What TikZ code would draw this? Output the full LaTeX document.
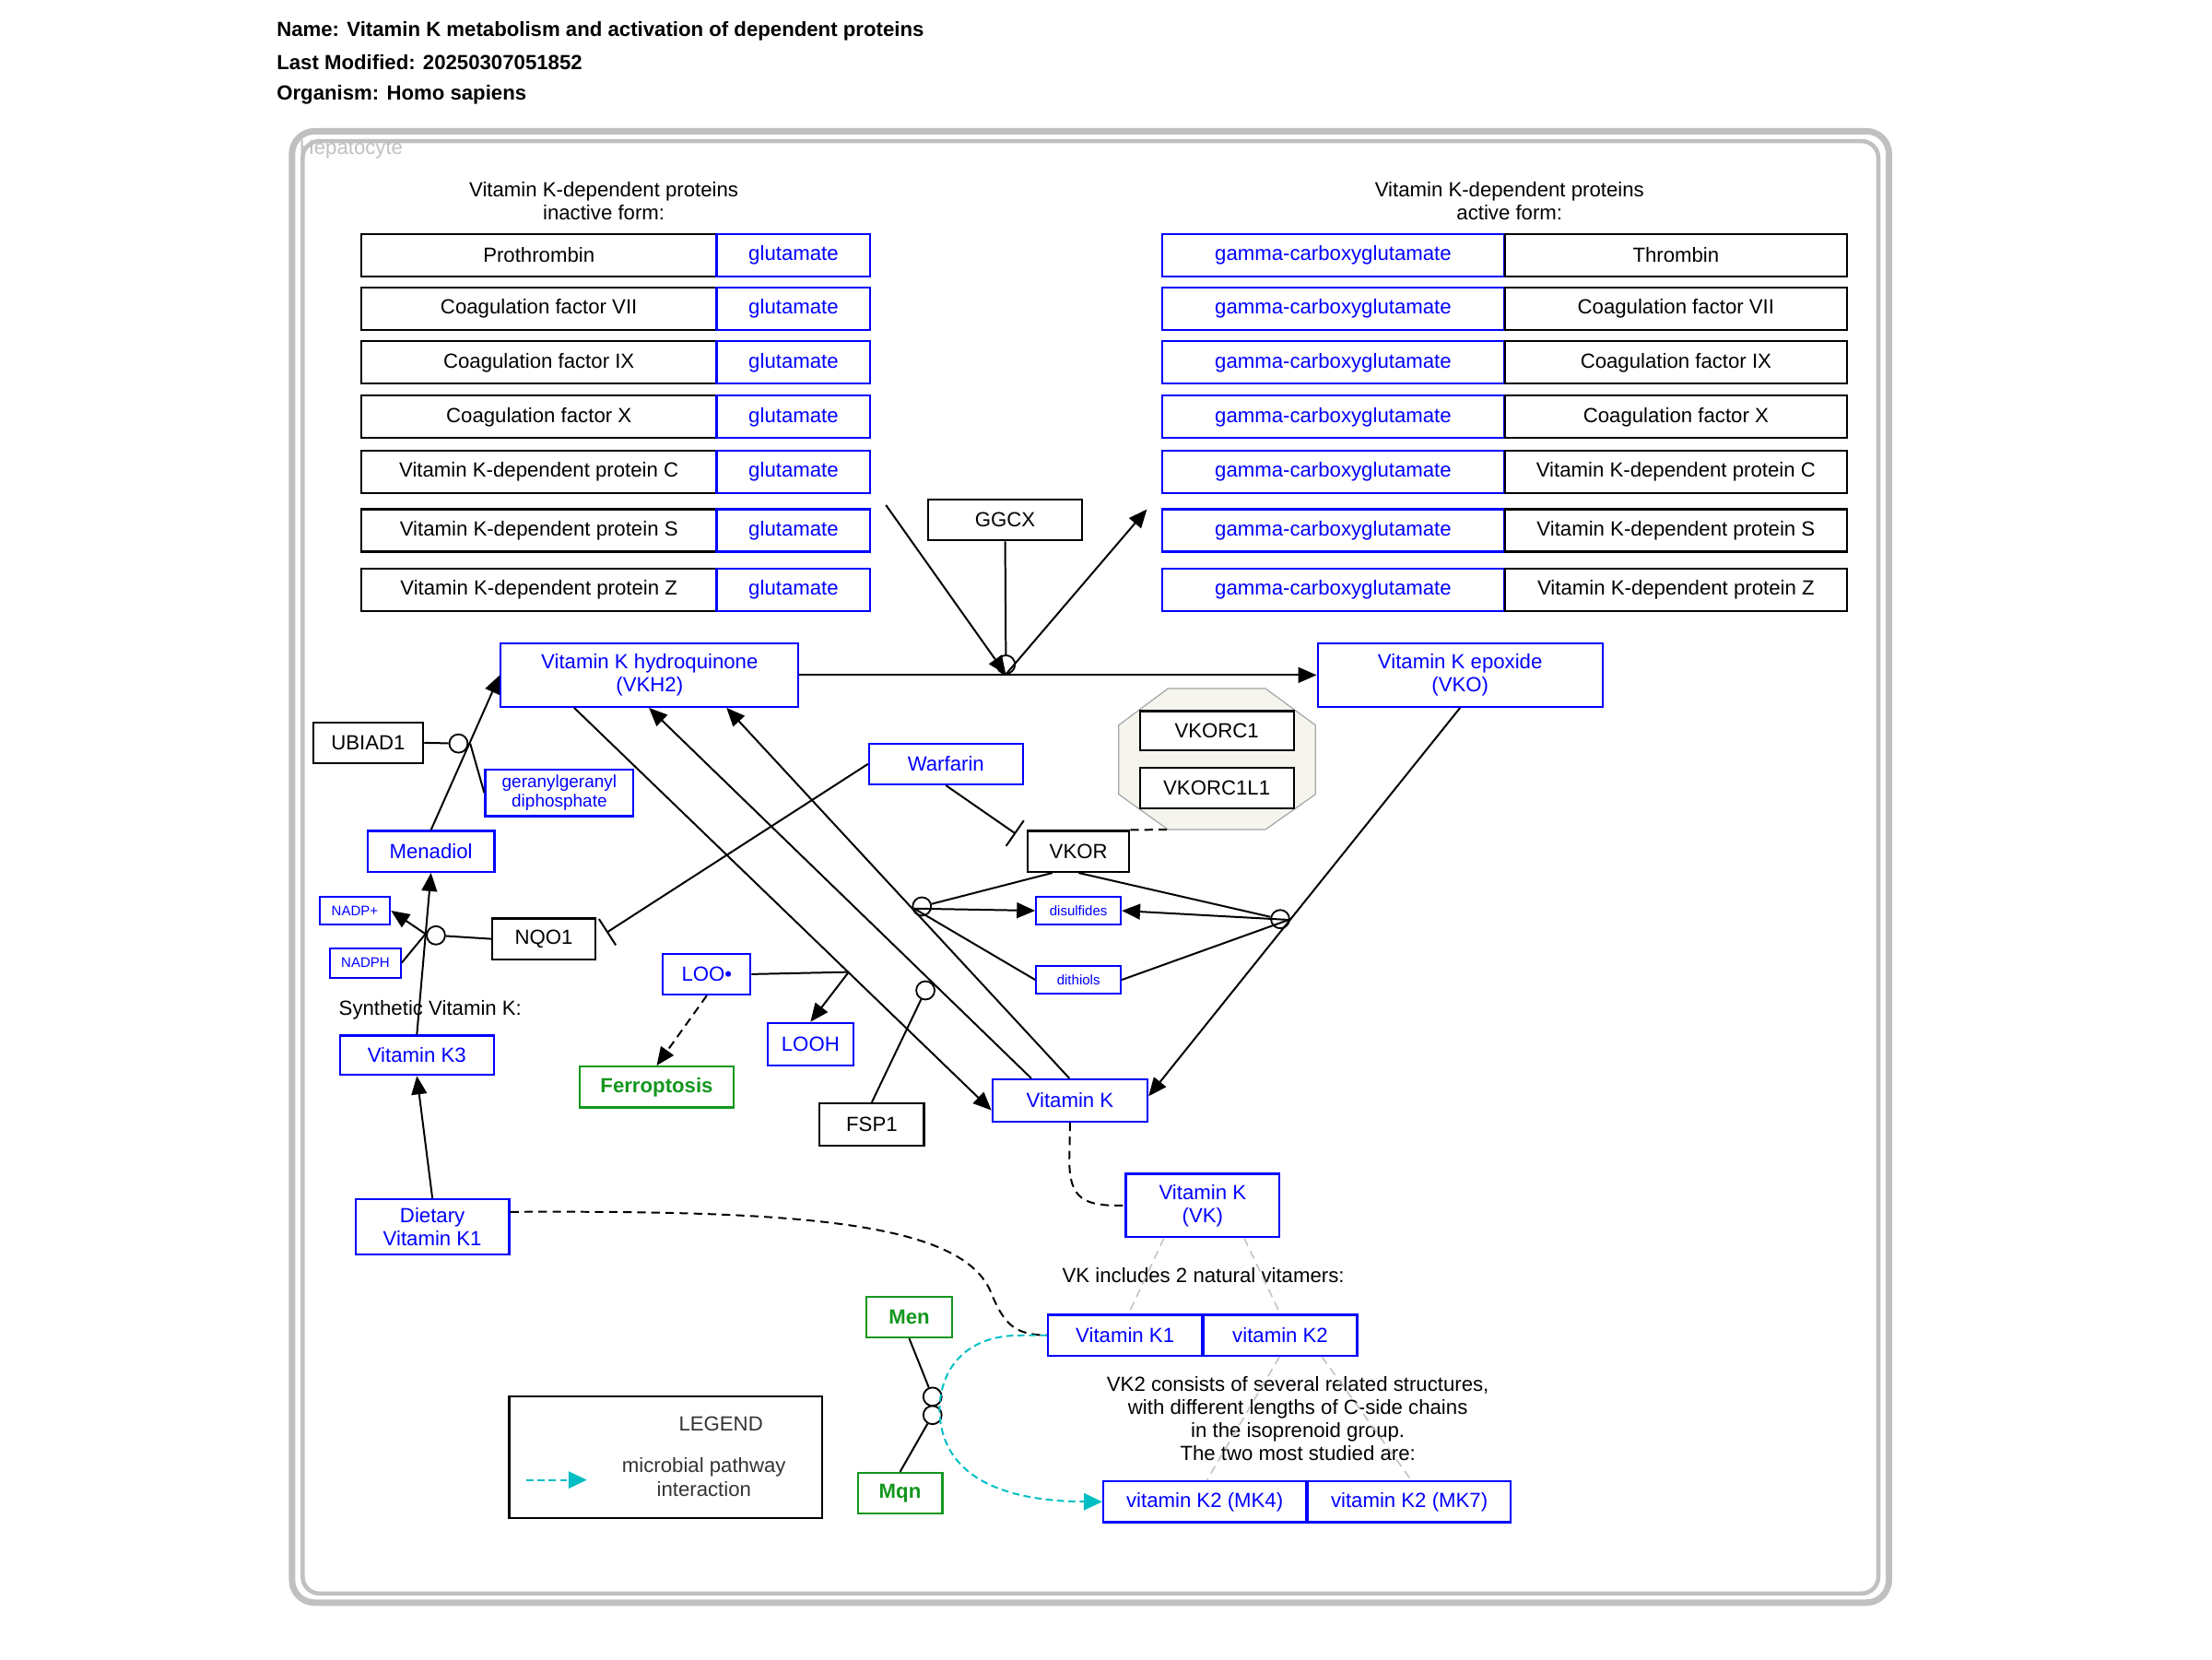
\documentclass[tikz,border=0pt]{standalone}
\usepackage{fontspec}
\setmainfont{Liberation Sans}
\usetikzlibrary{positioning,arrows.meta,calc}
\definecolor{vkblue}{RGB}{0,0,255}
\definecolor{vkgreen}{RGB}{20,150,30}
\definecolor{vkcyan}{RGB}{0,190,195}
\definecolor{cellgray}{RGB}{192,192,192}
\definecolor{cplxfill}{RGB}{245,245,238}
\newcommand{\fnorm}{\fontsize{14.5}{16.5}\selectfont}
\newcommand{\fmid}{\fontsize{12.4}{13.6}\selectfont}
\newcommand{\fsmall}{\fontsize{9.8}{11}\selectfont}

\begin{document}
\begin{tikzpicture}[x=1pt,y=-1pt,
  box/.style={draw,line width=1.4pt,inner sep=0pt,align=center,font=\fnorm},
  gnode/.style={box,draw=black},
  mnode/.style={box,draw=vkblue,text=vkblue},
  pnode/.style={box,draw=vkgreen,text=vkgreen,font=\fnorm\bfseries},
  cat/.style={draw,circle,line width=1.2pt,minimum size=13pt,inner sep=0pt},
  link/.style={line width=1.3pt},
  arr/.style={link,-{Triangle[length=13pt,width=11pt]}},
  inh/.style={link,-{Bar[width=22pt,line width=1.3pt]}},
  dlink/.style={link,dash pattern=on 6pt off 4pt},
  vlink/.style={draw=cellgray,line width=1pt,dash pattern=on 6pt off 4pt},
  micro/.style={vkcyan,line width=1.3pt,dash pattern=on 5pt off 3pt,
    -{Triangle[length=13pt,width=12pt,fill=vkcyan]}},
  txt/.style={inner sep=0pt,align=center,font=\fnorm}]

  \useasboundingbox (0,0) rectangle (1568,1176);

  % header
  \node[txt,anchor=west,font=\fnorm\bfseries] (name) at (196,22) {Name: Vitamin K metabolism and activation of dependent proteins};
  \node[txt,anchor=west,font=\fnorm\bfseries] (modified) at (196,44) {Last Modified: 20250307051852};
  \node[txt,anchor=west,font=\fnorm\bfseries] (organism) at (196,67) {Organism: Homo sapiens};

  % cell
  \node[txt,anchor=west,text=cellgray] (heplabel) at (212,106) {Hepatocyte};
  \draw[cellgray,line width=4.5pt,rounded corners=16pt] (207,93) rectangle (1339,1136);
  \draw[cellgray,line width=3pt,rounded corners=12pt] (214.5,100) rectangle (1331.5,1129.5);

  % dependent proteins
  \node[txt] (inacttitle) at (428,142.5) {Vitamin K-dependent proteins\\inactive form:};
  \node[txt] (acttitle) at (1070,142.5) {Vitamin K-dependent proteins\\active form:};
  \foreach \y/\inact/\act [count=\i] in {181/Prothrombin/Thrombin,
      219/Coagulation factor VII/Coagulation factor VII,
      257/Coagulation factor IX/Coagulation factor IX,
      295.5/Coagulation factor X/Coagulation factor X,
      334.5/Vitamin K-dependent protein C/Vitamin K-dependent protein C,
      376/Vitamin K-dependent protein S/Vitamin K-dependent protein S,
      418/Vitamin K-dependent protein Z/Vitamin K-dependent protein Z} {
    \node[gnode,minimum width=252pt,minimum height=30pt] (inact\i) at (382,\y) {\inact};
    \node[mnode,minimum width=109pt,minimum height=30pt] (glu\i) at (562.5,\y) {glutamate};
    \node[mnode,minimum width=242pt,minimum height=30pt] (gla\i) at (945,\y) {gamma-carboxyglutamate};
    \node[gnode,minimum width=242pt,minimum height=30pt] (act\i) at (1188,\y) {\act};
  }

  % carboxylation
  \node[gnode,minimum width=109pt,minimum height=29pt] (ggcx) at (712.5,368.5) {GGCX};
  \node[mnode,minimum width=211pt,minimum height=45pt] (vkh2) at (460.5,478.5) {Vitamin K hydroquinone\\(VKH2)};
  \node[mnode,minimum width=202pt,minimum height=45pt] (vko) at (1035,478.5) {Vitamin K epoxide\\(VKO)};
  \node[cat] (c-ggcx) at (713,471) {};
  \coordinate (j-ggcx) at (713,478);
  \coordinate (glu-in) at (628,358);
  \coordinate (gla-out) at (813,361);
  \draw[arr] (vkh2.east) -- (vko.west);
  \draw[arr] (glu-in) -- (j-ggcx);
  \draw[arr] (j-ggcx) -- (gla-out);
  \draw[link] (ggcx.south) -- (c-ggcx.north);

  % menadiol route
  \node[gnode,minimum width=78pt,minimum height=29pt] (ubiad) at (261,526.5) {UBIAD1};
  \node[mnode,font=\fmid,minimum width=105pt,minimum height=33pt] (gg) at (396.5,562) {geranylgeranyl\\diphosphate};
  \node[mnode,minimum width=90pt,minimum height=29pt] (menadiol) at (305.5,603.5) {Menadiol};
  \node[mnode,font=\fsmall,minimum width=50pt,minimum height=20pt] (nadp) at (251.5,645.5) {NADP+};
  \node[mnode,font=\fsmall,minimum width=50pt,minimum height=21pt] (nadph) at (259,682.5) {NADPH};
  \node[gnode,minimum width=73pt,minimum height=29pt] (nqo1) at (385.5,665.5) {NQO1};
  \node[txt] (synth) at (305,716) {Synthetic Vitamin K:};
  \node[mnode,minimum width=109pt,minimum height=28pt] (vk3) at (295.5,748) {Vitamin K3};
  \node[mnode,minimum width=109pt,minimum height=39pt] (dietary) at (306.5,869.5) {Dietary\\Vitamin K1};
  \node[cat] (c-ubiad) at (325,527) {};
  \node[cat] (c-nqo1) at (309,663) {};
  \coordinate (j-ubiad) at (333.3,527);
  \coordinate (j-nqo1) at (301.6,662);
  \draw[arr] (menadiol.north) -- (vkh2.west);
  \draw[link] (ubiad.east) -- (c-ubiad);
  \draw[link] (j-ubiad) -- (gg.west);
  \draw[arr] (vk3.north) -- (menadiol.south);
  \draw[link] (nqo1.west) -- (c-nqo1);
  \draw[link] (nadph.east) -- (j-nqo1);
  \draw[arr] (j-nqo1) -- (nadp.east);
  \draw[arr] (dietary.north) -- (vk3.south);

  % warfarin and VKOR
  \node[mnode,minimum width=109pt,minimum height=29pt] (warfarin) at (670.5,541.5) {Warfarin};
  \draw[draw=gray!70,fill=cplxfill,line width=0.8pt] (828,488) -- (897,488) -- (932.5,514)
    -- (932.5,563) -- (897,588) -- (828,588) -- (793,563) -- (793,514) -- cycle;
  \coordinate (cplx) at (828,588);
  \node[gnode,fill=white,minimum width=109pt,minimum height=28pt] (vkorc1) at (862.5,518) {VKORC1};
  \node[gnode,fill=white,minimum width=109pt,minimum height=29pt] (vkorc1l1) at (862.5,558.5) {VKORC1L1};
  \node[gnode,minimum width=72pt,minimum height=29pt] (vkor) at (764.5,603.5) {VKOR};
  \node[mnode,font=\fsmall,minimum width=60pt,minimum height=20pt] (disulf) at (764.5,645.5) {disulfides};
  \node[mnode,font=\fsmall,minimum width=60pt,minimum height=20pt] (dithiol) at (764.5,694.5) {dithiols};
  \coordinate (nqo1-inh) at (430,661);
  \coordinate (vkor-inh) at (720,591);
  \draw[inh] (warfarin.west) -- (nqo1-inh);
  \draw[inh] (warfarin.south) -- (vkor-inh);
  \draw[dlink] (vkor.north east) -- (cplx);

  % vitamin K cycle
  \node[mnode,minimum width=110pt,minimum height=30pt] (vitk) at (758.5,780) {Vitamin K};
  \node[gnode,minimum width=74pt,minimum height=30pt] (fsp1) at (618,797) {FSP1};
  \node[mnode,minimum width=62pt,minimum height=29pt] (loo) at (501,690.5) {LOO\textbullet};
  \node[mnode,minimum width=61pt,minimum height=30pt] (looh) at (574.5,740) {LOOH};
  \node[pnode,minimum width=109pt,minimum height=29pt] (ferro) at (465.5,770.5) {Ferroptosis};
  \node[cat] (c-vkor1) at (653.5,642.5) {};
  \node[cat] (c-vkor2) at (907.5,651.5) {};
  \node[cat] (c-fsp1) at (656,702) {};
  \coordinate (j-loo) at (601.6,689);
  \coordinate (j-vkor1) at (648,644);
  \coordinate (j-vkor2) at (913.5,652);
  \draw[arr] ([xshift=-53.5pt]vkh2.south) -- ([yshift=-7pt]vitk.west);
  \draw[arr] ([xshift=-27.5pt]vitk.north) -- ([xshift=-0.5pt]vkh2.south);
  \draw[arr] ([xshift=-0.5pt]vitk.north) -- ([xshift=54.5pt]vkh2.south);
  \draw[arr] (vko.south) -- ([yshift=3pt]vitk.east);
  \draw[link] (c-vkor1) -- ([xshift=-18.5pt]vkor.south);
  \draw[arr] (j-vkor1) -- (disulf.west);
  \draw[link] (dithiol.west) -- (j-vkor1);
  \draw[link] (vkor.south) -- (c-vkor2);
  \draw[arr] (j-vkor2) -- (disulf.east);
  \draw[link] (dithiol.east) -- (j-vkor2);
  \draw[link] (fsp1.north) -- (c-fsp1);
  \draw[link] (loo.east) -- (j-loo);
  \draw[arr] (j-loo) -- (looh.north);
  \draw[arr,dash pattern=on 6pt off 4pt] (loo.south) -- (ferro.north);

  % vitamers
  \node[mnode,minimum width=109pt,minimum height=45pt] (vk) at (852.5,854.5) {Vitamin K\\(VK)};
  \node[txt] (vkincl) at (853,904) {VK includes 2 natural vitamers:};
  \node[mnode,minimum width=109pt,minimum height=29pt] (vk1) at (797.5,946.5) {Vitamin K1};
  \node[mnode,minimum width=109pt,minimum height=29pt] (vk2) at (907.5,946.5) {vitamin K2};
  \node[txt,font=\fontsize{14.5}{16.4}\selectfont] (vk2note) at (920,1005.5) {VK2 consists of several related structures,\\with different lengths of C-side chains\\in the isoprenoid group.\\The two most studied are:};
  \node[mnode,minimum width=144pt,minimum height=29pt] (mk4) at (854,1064.5) {vitamin K2 (MK4)};
  \node[mnode,minimum width=144pt,minimum height=29pt] (mk7) at (999,1064.5) {vitamin K2 (MK7)};
  \draw[dlink] (vitk.south) -- (758,822) .. controls (758,850) and (768,855) .. (vk.west);
  \draw[dlink] ([yshift=10.5pt]dietary.east) .. controls (560,858) and (680,865) .. (702,915)
    .. controls (712,940) and (720,946) .. (vk1.west);
  \draw[vlink] ([xshift=-27.5pt]vk.south) -- ([xshift=2.5pt]vk1.north);
  \draw[vlink] ([xshift=29.5pt]vk.south) -- (vk2.north);
  \draw[vlink] ([xshift=-0.5pt]vk2.south) -- ([xshift=1.5pt]mk4.north);
  \draw[vlink] ([xshift=29.5pt]vk2.south) -- ([xshift=1.5pt]mk7.north);

  % microbial conversion
  \node[pnode,minimum width=61pt,minimum height=29pt] (men) at (644.5,933.5) {Men};
  \node[pnode,minimum width=60pt,minimum height=29pt] (mqn) at (638,1058.5) {Mqn};
  \node[cat] (c-men) at (661,990) {};
  \node[cat] (c-mqn) at (661,1003) {};
  \draw[link] (men.south) -- (c-men);
  \draw[link] (mqn.north) -- (c-mqn);
  \draw[micro] (vk1.west) -- ++(-18,0) .. controls (685,946) and (666,970) .. (666,1000)
    .. controls (667,1040) and (700,1064) .. (mk4.west);

  % legend
  \node[draw,line width=1.4pt,minimum width=222pt,minimum height=86pt,inner sep=0pt] (legend) at (472,1033) {};
  \node[txt,text=black!80] (legtitle) at (511,1009) {LEGEND};
  \node[txt,text=black!80] (legtext) at (499,1047) {microbial pathway\\interaction};
  \coordinate (leg-a) at (373,1049);
  \coordinate (leg-b) at (416,1049);
  \draw[micro] (leg-a) -- (leg-b);
\end{tikzpicture}
\end{document}
